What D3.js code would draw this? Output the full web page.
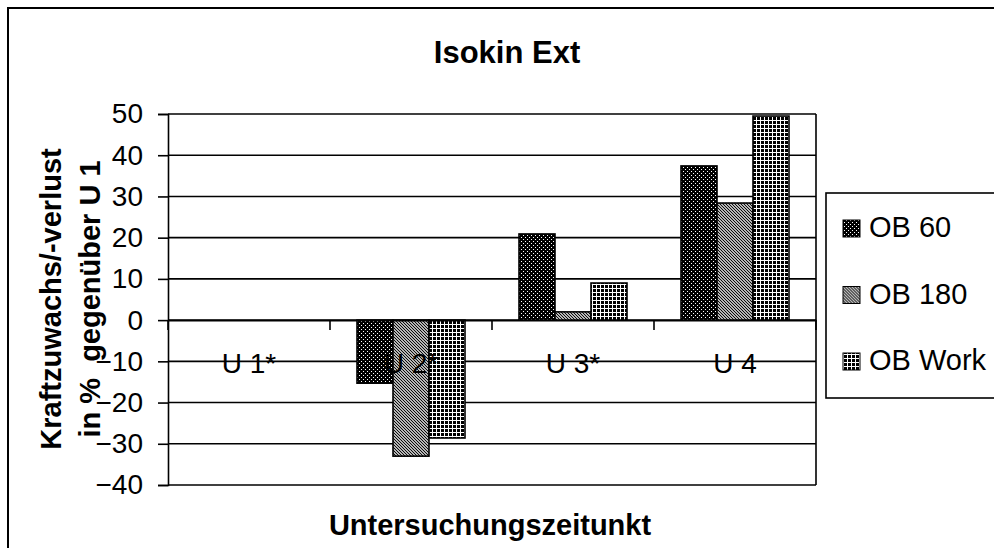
<!DOCTYPE html>
<html>
<head>
<meta charset="utf-8">
<script src="https://cdn.jsdelivr.net/npm/d3@7"></script>
<style>
  body { margin: 0; background: #fff; }
  svg { display: block; font-family: Arial, "Liberation Sans", sans-serif; }
</style>
</head>
<body>
<div id="chart"></div>
<script>
const categories = ["U 1*", "U 2*", "U 3*", "U 4"];
const seriesNames = ["OB 60", "OB 180", "OB Work"];
const ob60 = [0, -15.3, 20.9, 37.4];
const ob180 = [0, -33, 2, 28.4];
const obWork = [0, -28.6, 9, 49.5];
const yTicks = [-40, -30, -20, -10, 0, 10, 20, 30, 40, 50];

const seriesValues = [ob60, ob180, obWork];
const patternIds = ["p60", "p180", "pWork"];

const width = 994, height = 548;
const plot = { left: 168, right: 816, top: 114, bottom: 485 };

const svg = d3.select("#chart").append("svg")
    .attr("width", width)
    .attr("height", height);

// fill patterns like the old excel ones
const defs = svg.append("defs");
let p = defs.append("pattern").attr("id", "p60")
    .attr("patternUnits", "userSpaceOnUse").attr("width", 4).attr("height", 4);
p.append("rect").attr("width", 4).attr("height", 4).attr("fill", "#000");
p.append("rect").attr("x", 1).attr("y", 1).attr("width", 1).attr("height", 1).attr("fill", "#fff");
p.append("rect").attr("x", 3).attr("y", 3).attr("width", 1).attr("height", 1).attr("fill", "#fff");

p = defs.append("pattern").attr("id", "p180")
    .attr("patternUnits", "userSpaceOnUse").attr("width", 3).attr("height", 3);
p.append("rect").attr("width", 3).attr("height", 3).attr("fill", "#fff");
p.append("path").attr("d", "M0,0L3,3M-1,2L1,4M2,-1L4,1")
    .attr("stroke", "#000").attr("stroke-width", 1.1);

p = defs.append("pattern").attr("id", "pWork")
    .attr("patternUnits", "userSpaceOnUse").attr("width", 4).attr("height", 4);
p.append("rect").attr("width", 4).attr("height", 4).attr("fill", "#000");
p.append("rect").attr("x", 0).attr("y", 0).attr("width", 1).attr("height", 4).attr("fill", "#fff");
p.append("rect").attr("x", 0).attr("y", 0).attr("width", 4).attr("height", 1).attr("fill", "#fff");

// outer chart border (runs off the page on right/bottom)
svg.append("rect")
    .attr("x", 8).attr("y", 8)
    .attr("width", 1100).attr("height", 700)
    .attr("fill", "none").attr("stroke", "#000").attr("stroke-width", 2);

const x = d3.scaleBand()
    .domain(categories)
    .range([plot.left, plot.right])
    .padding(0);

const bw = x.bandwidth();
const gap = bw * 1.5 / 4.5;
const xInner = d3.scaleBand()
    .domain(seriesNames)
    .range([gap / 2, bw - gap / 2])
    .padding(0);

const y = d3.scaleLinear()
    .domain([-40, 50])
    .range([plot.bottom, plot.top]);

// gridlines
svg.append("g")
    .selectAll("line")
    .data(yTicks)
    .join("line")
    .attr("x1", plot.left).attr("x2", plot.right)
    .attr("y1", d => y(d)).attr("y2", d => y(d))
    .attr("stroke", "#000").attr("stroke-width", 1.6);

// right border of plot area
svg.append("line")
    .attr("x1", plot.right).attr("x2", plot.right)
    .attr("y1", y(50)).attr("y2", y(-40))
    .attr("stroke", "#000").attr("stroke-width", 1.6);

// y axis
const yAxis = d3.axisLeft(y)
    .tickValues(yTicks)
    .tickSize(10)
    .tickPadding(15)
    .tickFormat(d3.format("d"));
const yg = svg.append("g")
    .attr("transform", `translate(${plot.left},0)`)
    .call(yAxis);
yg.select(".domain").attr("stroke", "#000").attr("stroke-width", 1.6);
yg.selectAll(".tick line").attr("stroke", "#000").attr("stroke-width", 1.6);
yg.selectAll(".tick text")
    .attr("font-size", 28)
    .attr("font-family", "Arial, 'Liberation Sans', sans-serif")
    .attr("fill", "#000");

// bars
const groups = svg.append("g")
    .selectAll("g")
    .data(seriesNames)
    .join("g")
    .attr("fill", (d, i) => `url(#${patternIds[i]})`);

groups.selectAll("rect")
    .data((s, i) => categories.map((c, j) => ({ cat: c, series: s, value: seriesValues[i][j] })))
    .join("rect")
    .filter(d => d.value !== 0)
    .attr("x", d => x(d.cat) + xInner(d.series))
    .attr("width", xInner.bandwidth())
    .attr("y", d => y(Math.max(0, d.value)))
    .attr("height", d => Math.abs(y(d.value) - y(0)))
    .attr("stroke", "#000")
    .attr("stroke-width", 1.6);

// category axis along zero
const xAxis = d3.axisBottom(x).tickSize(0).tickPadding(0);
const xg = svg.append("g")
    .attr("transform", `translate(0,${y(0)})`)
    .call(xAxis);
xg.select(".domain").attr("stroke", "#000").attr("stroke-width", 1.6);
xg.selectAll(".tick text")
    .attr("y", 53)
    .attr("dy", null)
    .attr("font-size", 28)
    .attr("font-family", "Arial, 'Liberation Sans', sans-serif")
    .attr("fill", "#000");

// tick marks at category boundaries
const bounds = categories.map(c => x(c)).concat([plot.right]);
xg.append("g")
    .selectAll("line")
    .data(bounds)
    .join("line")
    .attr("x1", d => d).attr("x2", d => d)
    .attr("y1", 0).attr("y2", 10)
    .attr("stroke", "#000").attr("stroke-width", 1.6);

// title
svg.append("text")
    .attr("x", 507).attr("y", 63)
    .attr("text-anchor", "middle")
    .attr("font-size", 31).attr("font-weight", "bold")
    .text("Isokin Ext");

// x axis title
svg.append("text")
    .attr("x", 490).attr("y", 535)
    .attr("text-anchor", "middle")
    .attr("font-size", 29).attr("font-weight", "bold")
    .text("Untersuchungszeitunkt");

// y axis title, two lines
const yt = svg.append("text")
    .attr("transform", "translate(0,299) rotate(-90)")
    .attr("text-anchor", "middle")
    .attr("font-size", 29).attr("font-weight", "bold");
yt.append("tspan").attr("x", 0).attr("y", 61).text("Kraftzuwachs/-verlust");
yt.append("tspan").attr("x", 0).attr("y", 100).attr("xml:space", "preserve").text("in %  gegenüber U 1");

// legend
const legend = svg.append("g");
legend.append("rect")
    .attr("x", 826).attr("y", 193)
    .attr("width", 300).attr("height", 205)
    .attr("fill", "#fff").attr("stroke", "#000").attr("stroke-width", 1.6);

const legendY = d3.scalePoint()
    .domain(seriesNames)
    .range([237, 370]);

const items = legend.selectAll("g.item")
    .data(seriesNames)
    .join("g")
    .attr("class", "item")
    .attr("transform", d => `translate(843,${legendY(d)})`);

items.append("rect")
    .attr("x", 0).attr("y", -17)
    .attr("width", 17).attr("height", 17)
    .attr("fill", (d, i) => `url(#${patternIds[i]})`)
    .attr("stroke", "#000").attr("stroke-width", 1);

items.append("text")
    .attr("x", 26).attr("y", 0)
    .attr("font-size", 29)
    .text(d => d);
</script>
</body>
</html>
